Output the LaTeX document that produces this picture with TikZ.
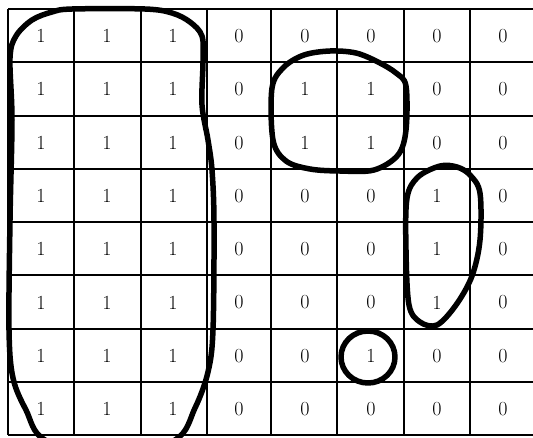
\documentclass[tikz,border=0pt]{standalone}
\begin{document}
\begin{tikzpicture}[x=1pt,y=-1pt,
  gridline/.style={line width=1.4pt,black},
  loop/.style={line width=5.5pt,black,line join=round},
  val/.style={font=\fontsize{20}{20}\selectfont,inner sep=0pt}]
\useasboundingbox (0,0) rectangle (533,437);
\fill[white] (0,0) rectangle (533,437);
% grid
\foreach \xx in {8,74,141,207,271,337,404,470,536}
  \draw[gridline] (\xx,9) -- (\xx,435);
\foreach \yy in {9,62,116,169,222,275,329,382,435}
  \draw[gridline] (8,\yy) -- (536,\yy);
% values
\foreach \vals [count=\r from 0] in {
  {1,1,1,0,0,0,0,0},{1,1,1,0,1,1,0,0},{1,1,1,0,1,1,0,0},{1,1,1,0,0,0,1,0},
  {1,1,1,0,0,0,1,0},{1,1,1,0,0,0,1,0},{1,1,1,0,0,1,0,0},{1,1,1,0,0,0,0,0}}{
  \foreach \v [count=\c from 0] in \vals {
    \node[val] (c-\r-\c) at ({41+66*\c},{36+53.3*\r}) {\v};
  }
}
% loops
\draw[loop] plot[smooth cycle,tension=0.55] coordinates {
 (10,58) (16,36) (32,20) (52,12) (72,9) (145,9) (172,13) (190,22) (202,36)
 (203,62) (202,105) (208,140) (212,170) (214,222) (213,330) (208,372)
 (195,408) (175,440) (110,456) (45,440) (26,410) (13,378) (9,330) (10,220)
 (12,120)};
\draw[loop] plot[smooth cycle,tension=0.55] coordinates {
 (272,88) (284,67) (304,55) (330,51) (356,53) (378,62) (396,73) (406,86)
 (406,130) (398,155) (374,170) (340,171) (310,169) (286,161) (273,140)};
\draw[loop] plot[smooth cycle,tension=0.55] coordinates {
 (440,166) (457,167) (470,175) (480,193) (480,240) (472,276) (456,305)
 (437,325) (420,322) (409,305) (406,250) (407,198) (418,177)};
\draw[loop] (368,357) ellipse [x radius=27, y radius=26];
\end{tikzpicture}
\end{document}
